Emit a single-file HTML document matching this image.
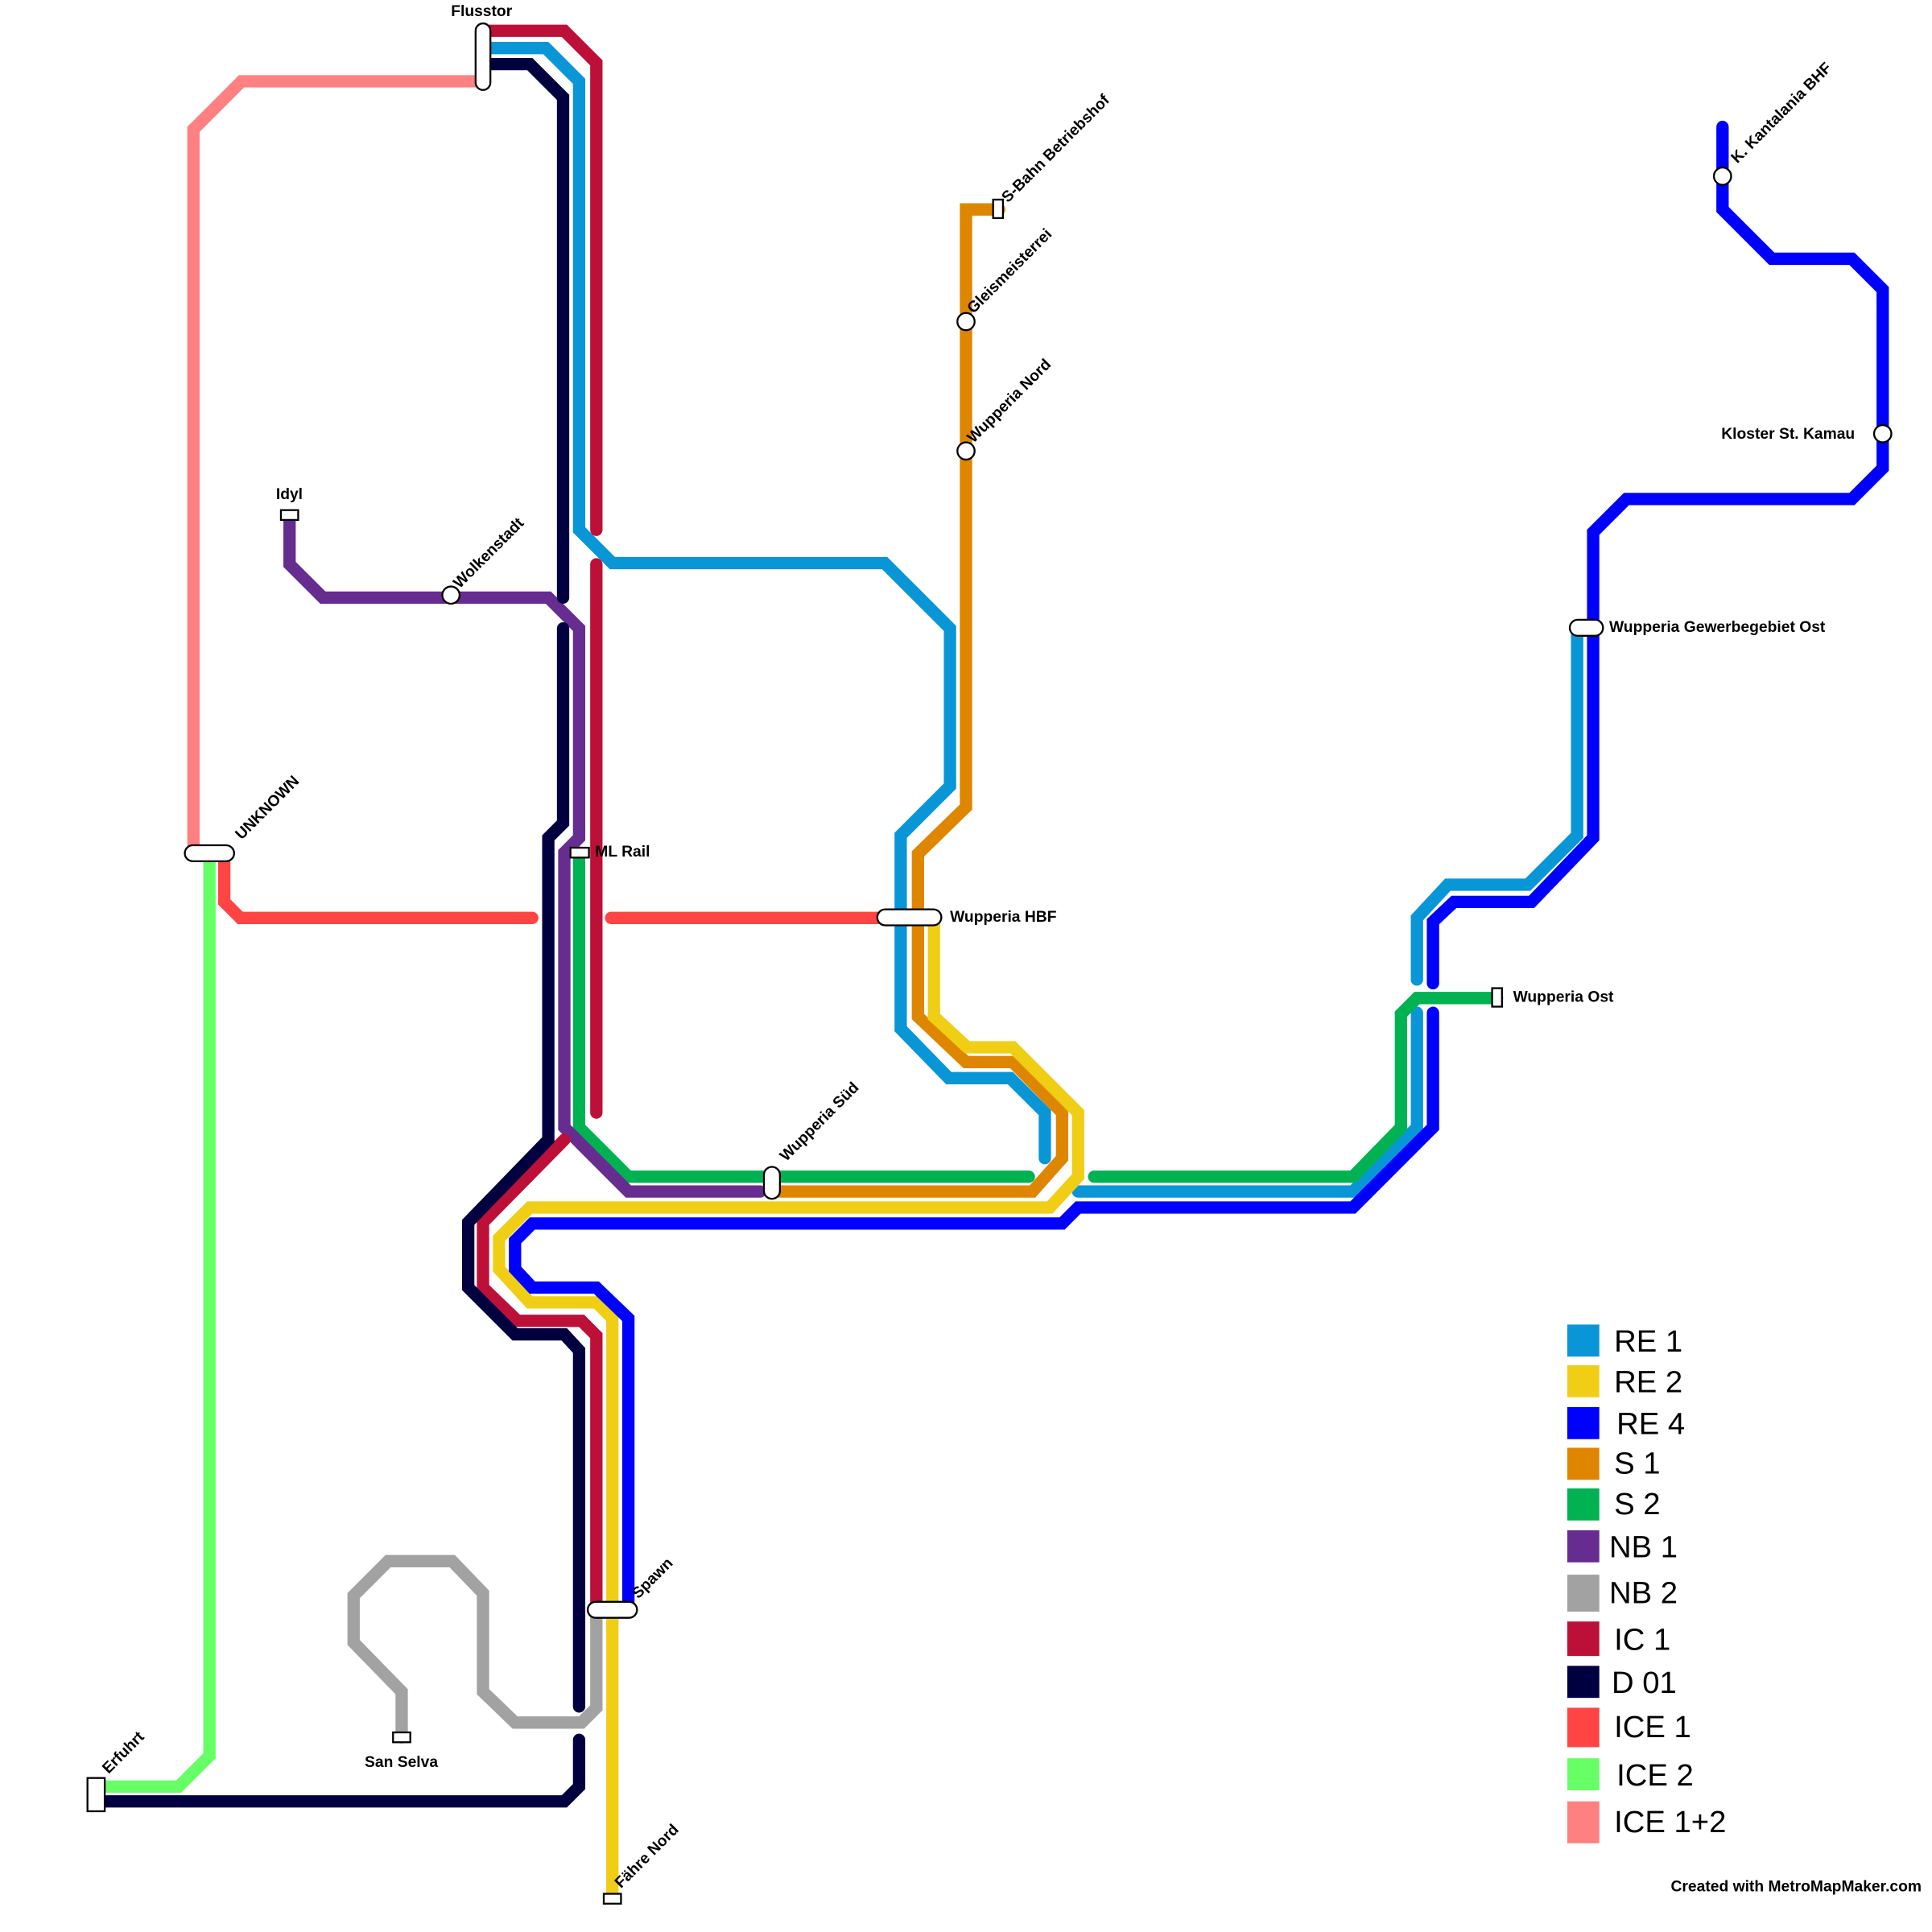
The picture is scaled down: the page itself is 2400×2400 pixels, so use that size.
<!DOCTYPE html>
<html><head><meta charset="utf-8"><style>
html,body{margin:0;padding:0;background:#fff}
svg{display:block}
text{font-family:"Liberation Sans",Arial,sans-serif}
.l{font-weight:bold;font-size:12.6px;fill:#000}
.g{font-size:25px;fill:#000}
</style></head><body>
<svg width="2400" height="2400" viewBox="0 0 1568 1568" xmlns="http://www.w3.org/2000/svg">
<rect width="1568" height="1568" fill="#fff"/>
<g fill="none" stroke-width="10" stroke-linecap="round" stroke-linejoin="miter">
<polyline stroke="#ff8080" points="390,66 196,66 157,105 157,690"/>
<polyline stroke="#66ff66" points="170,692 170,1425 145,1450 78,1450"/>
<polyline stroke="#ff4444" points="182,692 182,732 195,745 432,745"/>
<polyline stroke="#ff4444" points="496,745 715,745"/>
<polyline stroke="#a2a2a2" points="326,1410 326,1373 287,1333 287,1295 315,1267 367,1267 392,1293 392,1373 418,1398 472,1398 484,1386 484,1310"/>
<polyline stroke="#0896d7" points="398,39 443,39 470,66 470,430 497,457 718,457 771,510 771,638 731,678 731,835 770,875 820,875 848,903 848,940"/>
<polyline stroke="#0896d7" points="875,967 1098,967 1150,915 1150,822"/>
<polyline stroke="#0896d7" points="1150,795 1150,745 1175,718 1240,718 1280,678 1280,510"/>
<polyline stroke="#df8600" points="811,170 784,170 784,655 745,693 745,825 784,862 822,862 862,903 862,940 838,967 630,967"/>
<polyline stroke="#f0ce15" points="758,745 758,825 785,850 822,850 875,903 875,955 852,980 430,980 405,1005 405,1030 430,1057 484,1057 497,1070 497,1540"/>
<polyline stroke="#00b251" points="470,692 470,915 510,955 835,955"/>
<polyline stroke="#00b251" points="888,955 1098,955 1137,915 1137,823 1150,810 1215,810"/>
<polyline stroke="#662c90" points="235,420 235,458 262,485 445,485 470,510 470,680 458,692 458,915 510,967 617,967"/>
<polyline stroke="#bd1038" points="392,25 458,25 484,51 484,430"/>
<polyline stroke="#bd1038" points="484,458 484,903"/>
<polyline stroke="#bd1038" points="458,925 392,992 392,1045 420,1072 472,1072 484,1084 484,1300"/>
<polyline stroke="#000040" points="392,52 430,52 457,79 457,485"/>
<polyline stroke="#000040" points="457,510 457,668 445,680 445,925 380,992 380,1045 418,1083 458,1083 470,1096 470,1385"/>
<polyline stroke="#000040" points="470,1412 470,1450 458,1462 78,1462"/>
<polyline stroke="#0000ff" points="1398,103 1398,170 1438,210 1503,210 1528,235 1528,380 1503,405 1320,405 1293,432 1293,680 1243,732 1180,732 1163,748 1163,798"/>
<polyline stroke="#0000ff" points="1163,822 1163,915 1098,980 875,980 862,993 432,993 418,1007 418,1030 432,1045 484,1045 510,1070 510,1300"/>
</g>
<g fill="#fff" stroke="#000" stroke-width="1.5">
<rect x="386" y="19" width="12" height="54" rx="6"/>
<rect x="150" y="686" width="40" height="13" rx="6.5"/>
<rect x="712" y="738" width="52" height="13" rx="6.5"/>
<rect x="477" y="1300" width="40" height="13" rx="6.5"/>
<rect x="620" y="947" width="13" height="26" rx="6.5"/>
<rect x="1274" y="503" width="27" height="13" rx="6.5"/>
<rect x="228" y="414" width="14" height="8"/>
<rect x="463" y="688" width="15" height="8"/>
<rect x="806" y="162" width="8" height="15"/>
<rect x="1211" y="802" width="8" height="15"/>
<rect x="319" y="1406" width="14" height="8"/>
<rect x="490" y="1537" width="14" height="8"/>
<rect x="71" y="1443" width="14" height="27"/>
<circle cx="366" cy="483" r="7"/>
<circle cx="784" cy="261" r="7"/>
<circle cx="784" cy="366" r="7"/>
<circle cx="1398" cy="143" r="7"/>
<circle cx="1528" cy="352" r="7"/>
</g>
<g class="l">
<text x="366" y="13">Flusstor</text>
<text x="224" y="405">Idyl</text>
<text x="483" y="695">ML Rail</text>
<text x="771" y="748">Wupperia HBF</text>
<text x="1306" y="513">Wupperia Gewerbegebiet Ost</text>
<text x="1228" y="813">Wupperia Ost</text>
<text x="1397" y="356">Kloster St. Kamau</text>
<text x="296" y="1434">San Selva</text>
<text transform="translate(196,682) rotate(-45)">UNKNOWN</text>
<text transform="translate(373,478) rotate(-45)">Wolkenstadt</text>
<text transform="translate(790,255) rotate(-45)">Gleismeisterrei</text>
<text transform="translate(790,360) rotate(-45)">Wupperia Nord</text>
<text transform="translate(818,165) rotate(-45)">S-Bahn Betriebshof</text>
<text transform="translate(1410,133) rotate(-45)">K. Kantalania BHF</text>
<text transform="translate(638,943) rotate(-45)">Wupperia Süd</text>
<text transform="translate(518,1298) rotate(-45)">Spawn</text>
<text transform="translate(504,1533) rotate(-45)">Fähre Nord</text>
<text transform="translate(88,1440) rotate(-45)">Erfuhrt</text>
<text x="1356" y="1535">Created with MetroMapMaker.com</text>
</g>
<g>
<rect x="1272" y="1075" width="26" height="26" fill="#0896d7"/><text class="g" x="1310" y="1097">RE 1</text>
<rect x="1272" y="1108" width="26" height="26" fill="#f0ce15"/><text class="g" x="1310" y="1130">RE 2</text>
<rect x="1272" y="1142" width="26" height="26" fill="#0000ff"/><text class="g" x="1312" y="1164">RE 4</text>
<rect x="1272" y="1175" width="26" height="26" fill="#df8600"/><text class="g" x="1310" y="1196">S 1</text>
<rect x="1272" y="1208" width="26" height="26" fill="#00b251"/><text class="g" x="1310" y="1229">S 2</text>
<rect x="1272" y="1242" width="26" height="26" fill="#662c90"/><text class="g" x="1306" y="1264">NB 1</text>
<rect x="1272" y="1278" width="26" height="30" fill="#a2a2a2"/><text class="g" x="1306" y="1301">NB 2</text>
<rect x="1272" y="1316" width="26" height="28" fill="#bd1038"/><text class="g" x="1310" y="1339">IC 1</text>
<rect x="1272" y="1352" width="26" height="26" fill="#000040"/><text class="g" x="1308" y="1374">D 01</text>
<rect x="1272" y="1386" width="26" height="32" fill="#ff4444"/><text class="g" x="1310" y="1410">ICE 1</text>
<rect x="1272" y="1427" width="26" height="26" fill="#66ff66"/><text class="g" x="1312" y="1449">ICE 2</text>
<rect x="1272" y="1462" width="26" height="34" fill="#ff8080"/><text class="g" x="1310" y="1487">ICE 1+2</text>
</g>
</svg>
</body></html>
